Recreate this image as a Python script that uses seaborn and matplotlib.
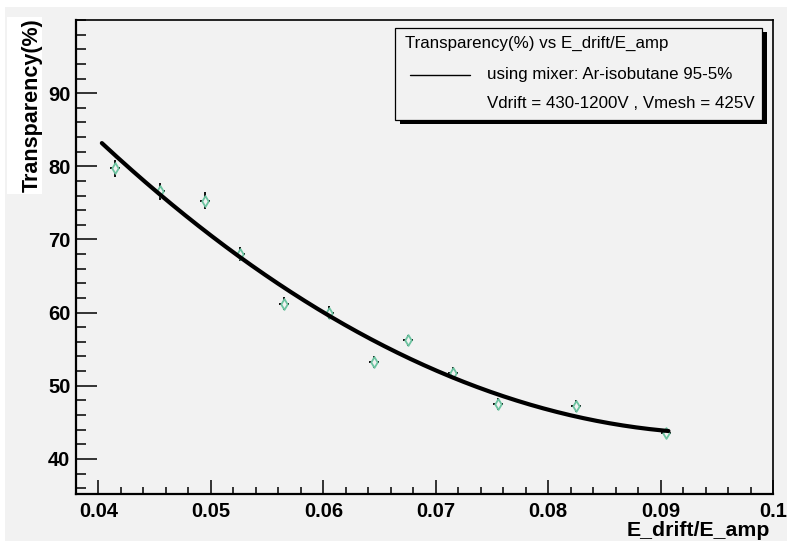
import numpy as np
import pandas as pd
import matplotlib
matplotlib.use("Agg")
import matplotlib.pyplot as plt
import seaborn as sns
from matplotlib.patches import Rectangle
from matplotlib.lines import Line2D
from matplotlib.ticker import MultipleLocator

# Measured transparency versus field ratio
ratio = [0.0415, 0.0455, 0.0495, 0.0526, 0.0565, 0.0605,
         0.0645, 0.0675, 0.0715, 0.0755, 0.0825, 0.0905]
transparency = [79.7, 76.6, 75.3, 68.0, 61.2, 60.0,
                53.2, 56.2, 51.8, 47.5, 47.2, 43.6]
transparency_err = [1.2, 1.15, 1.15, 1.0, 0.9, 0.85,
                    0.8, 0.8, 0.75, 0.8, 0.8, 0.5]
ratio_err = [0.00045] * len(ratio)
fit_range = [0.0403, 0.0907]

x_ticks = [0.04, 0.05, 0.06, 0.07, 0.08, 0.09, 0.1]
x_tick_labels = ["0.04", "0.05", "0.06", "0.07", "0.08", "0.09", "0.1"]
y_ticks = [40, 50, 60, 70, 80, 90]

legend_header = "Transparency(%) vs E_drift/E_amp"
legend_line = "using mixer: Ar-isobutane 95-5%"
legend_note = "Vdrift = 430-1200V , Vmesh = 425V"

df = pd.DataFrame({"ratio": ratio, "transparency": transparency,
                   "terr": transparency_err, "rerr": ratio_err})

# second-order polynomial fit weighted by the errors
coef = np.polyfit(df["ratio"], df["transparency"], 2, w=1.0 / df["terr"])
x_fit = np.linspace(fit_range[0], fit_range[1], 300)
fit_df = pd.DataFrame({"ratio": x_fit, "fit": np.polyval(coef, x_fit)})

sns.set_theme(style="ticks")
plt.rcParams["font.family"] = ["Liberation Sans", "DejaVu Sans"]
plt.rcParams["text.color"] = "black"
plt.rcParams["xtick.color"] = "black"
plt.rcParams["ytick.color"] = "black"

BG = "#f2f2f2"
W, H = 787, 543
fig = plt.figure(figsize=(W / 100, H / 100), dpi=100, facecolor="white")

# grey canvas
fig.patches.append(Rectangle((5 / W, 2 / H), 1 - 5 / W, 1 - 9 / H,
                             transform=fig.transFigure, facecolor=BG,
                             edgecolor="none", zorder=-5))

ax = fig.add_axes([76 / W, 1 - 494 / H, (773 - 76) / W, (494 - 20) / H])
ax.set_facecolor(BG)

ax.errorbar(df["ratio"], df["transparency"], yerr=df["terr"], xerr=df["rerr"],
            fmt="none", ecolor="black", elinewidth=1.3, capsize=0, zorder=2)
sns.scatterplot(data=df, x="ratio", y="transparency", ax=ax, marker="d",
                s=30, facecolor=BG, edgecolor="#6cc3a0", linewidth=1.3,
                zorder=3, legend=False)
sns.lineplot(data=fit_df, x="ratio", y="fit", ax=ax, color="black",
             linewidth=3.0, zorder=4, legend=False)

ax.set_xlim(0.038, 0.1)
ax.set_ylim(35.2, 100)
ax.set_xticks(x_ticks)
ax.set_xticklabels(x_tick_labels)
ax.set_yticks(y_ticks)
ax.xaxis.set_minor_locator(MultipleLocator(0.002))
ax.yaxis.set_minor_locator(MultipleLocator(2))
ax.tick_params(axis="both", which="both", direction="in", top=False, right=False,
               colors="black", labelcolor="black", width=1.1)
ax.tick_params(axis="y", which="major", length=15, pad=4)
ax.tick_params(axis="y", which="minor", length=7.5)
ax.tick_params(axis="x", which="major", length=10, pad=6)
ax.tick_params(axis="x", which="minor", length=5)
for lab in ax.get_xticklabels() + ax.get_yticklabels():
    lab.set_fontsize(14.5)
    lab.set_fontweight("bold")
    lab.set_color("black")

for side in ["left", "bottom"]:
    ax.spines[side].set_linewidth(1.6)
for side in ["top", "right"]:
    ax.spines[side].set_visible(True)
    ax.spines[side].set_linewidth(1.2)
for sp in ax.spines.values():
    sp.set_color("black")

ax.set_xlabel("")
ax.set_ylabel("")
fig.text(770 / W, 1 - 531 / H, "E_drift/E_amp", ha="right", va="center",
         fontsize=15.3, fontweight="bold", color="black")
fig.patches.append(Rectangle((7 / W, 1 - 194 / H), 35 / W, 177 / H,
                             transform=fig.transFigure, facecolor="white",
                             edgecolor="none", zorder=-4))
fig.text(32 / W, 1 - 18 / H, "Transparency(%)", rotation=90, ha="center",
         va="top", fontsize=15.5, fontweight="bold", color="black")

# legend box with offset shadow
bx0, bx1, by0, by1 = 395, 762, 28, 120
fig.patches.append(Rectangle(((bx0 + 5) / W, 1 - (by1 + 4) / H), (bx1 - bx0) / W,
                             (by1 - by0) / H, transform=fig.transFigure,
                             facecolor="black", edgecolor="none", zorder=10))
fig.patches.append(Rectangle((bx0 / W, 1 - by1 / H), (bx1 - bx0) / W,
                             (by1 - by0) / H, transform=fig.transFigure,
                             facecolor=BG, edgecolor="black", linewidth=0.9,
                             zorder=11))
fig.text(405 / W, 1 - 43 / H, legend_header, ha="left", va="center",
         fontsize=12.2, zorder=12, color="black")
fig.lines.append(Line2D([410 / W, 470 / W], [1 - 75 / H, 1 - 75 / H],
                        transform=fig.transFigure, color="black", linewidth=1.0,
                        zorder=12))
fig.text(487 / W, 1 - 75 / H, legend_line, ha="left", va="center",
         fontsize=12.2, zorder=12, color="black")
fig.text(487 / W, 1 - 103 / H, legend_note, ha="left", va="center",
         fontsize=12.2, zorder=12, color="black")

fig.savefig("out.png", dpi=100, facecolor="white")
